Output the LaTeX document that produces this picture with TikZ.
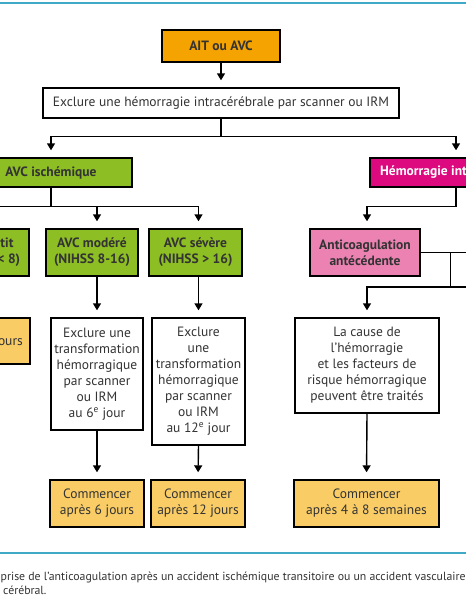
\documentclass[tikz,border=0pt]{standalone}
\usepackage{fontspec}
\setmainfont{PT Sans}
\usetikzlibrary{arrows.meta}
\definecolor{orA}{HTML}{F4A300}
\definecolor{grA}{HTML}{8DBE23}
\definecolor{mgA}{HTML}{DC0A7E}
\definecolor{pkA}{HTML}{EB82B2}
\definecolor{orB}{HTML}{F9CC66}
\definecolor{cyA}{HTML}{3FA9C6}
\definecolor{txA}{HTML}{333333}
\begin{document}
\begin{tikzpicture}[x=1pt,y=-1pt,
  box/.style={draw=black, line width=1.4pt, align=center, inner sep=0pt, text=txA,
    font=\fontsize{13.5}{16}\selectfont},
  bbox/.style={box, font=\fontsize{13.5}{16}\selectfont\bfseries},
  ln/.style={line width=1.4pt},
  arr/.style={line width=1.4pt, -{Triangle[width=8pt,length=7pt]}, shorten >=7pt},
  captxt/.style={text=txA, font=\fontsize{11.8}{14}\selectfont, inner sep=0pt, anchor=base west}
]
\useasboundingbox (0,0) rectangle (466,600);
\clip (0,0) rectangle (466,600);
\fill[white] (0,0) rectangle (466,600);
\draw[cyA, line width=2pt] (0,2.5) -- (466,2.5);
\draw[cyA, line width=2pt] (0,553) -- (466,553);

% level 1-2
\node[bbox, fill=orA, minimum width=118pt, minimum height=32pt] (ait) at (221,46) {AIT ou AVC};
\node[box, minimum width=356pt, minimum height=30pt] (excl) at (221,103) {Exclure une hémorragie intracérébrale par scanner ou IRM};

% level 3
\node[bbox, fill=grA, minimum width=162pt, minimum height=29pt] (isch) at (51,172.5) {AVC ischémique};
\node[bbox, fill=mgA, text=white, minimum width=172pt, minimum height=29pt] (hem) at (456,172.5) {Hémorragie intr\phantom{acérébrale}};

% level 4
\node[bbox, fill=grA, minimum width=84pt, minimum height=47pt] (petit) at (-13,252.5) {\phantom{AVC pe}tit\\\phantom{(NIHSS }< 8)};
\node[bbox, fill=grA, minimum width=92pt, minimum height=47pt] (mod) at (92,252.5) {AVC modéré\\(NIHSS 8-16)};
\node[bbox, fill=grA, minimum width=93pt, minimum height=47pt] (sev) at (195.5,252.5) {AVC sévère\\(NIHSS > 16)};
\node[bbox, fill=pkA, minimum width=110pt, minimum height=47pt] (anti) at (365,252.5) {Anticoagulation\\antécédente};

% level 5
\node[box, fill=orB, minimum width=82pt, minimum height=46pt] (pbox) at (-11,341) {};
\node[text=txA, font=\fontsize{13.5}{16}\selectfont, anchor=base east, inner sep=0pt] (ptxt) at (23,345.5) {ours};
\node[box, minimum width=92pt, minimum height=112pt] (trmod) at (97,374) {Exclure une\\transformation\\hémorragique\\par scanner\\ou IRM\\au 6\textsuperscript{e} jour};
\node[box, minimum width=93pt, minimum height=127pt] (trsev) at (198.5,381.5) {Exclure\\une\\transformation\\hémorragique\\par scanner\\ou IRM\\au 12\textsuperscript{e} jour};
\node[box, minimum width=144pt, minimum height=95pt] (cause) at (367,365.5) {La cause de\\l’hémorragie\\et les facteurs de\\risque hémorragique\\peuvent être traités};

% level 6
\node[box, fill=orB, minimum width=94pt, minimum height=47pt] (c6) at (97,503.5) {Commencer\\après 6 jours};
\node[box, fill=orB, minimum width=94pt, minimum height=47pt] (c12) at (198,503.5) {Commencer\\après 12 jours};
\node[box, fill=orB, minimum width=145pt, minimum height=47pt] (c48) at (366.5,503.5) {Commencer\\après 4 à 8 semaines};

% connectors
\draw[arr] (ait.south) -- (excl.north);
\draw[ln] (excl.south) -- ++(0,18) coordinate (j1);
\draw[arr] (j1) -| (isch.north);
\draw[arr] (j1) -| (hem.north);
\draw[ln] (isch.south) -- ++(0,19) coordinate (j2);
\draw[arr] (j2) -| (petit.north);
\draw[arr] (j2) -| (mod.north -| trmod.north);
\draw[arr] (j2) -| (sev.north -| trsev.north);
\draw[arr] (petit.south) -- (pbox.north);
\draw[arr] (trmod.north |- mod.south) -- (trmod.north);
\draw[arr] (trsev.north |- sev.south) -- (trsev.north);
\draw[arr] (trmod.south) -- (c6.north);
\draw[arr] (trsev.south) -- (c12.north);
\draw[ln] (hem.south) -- ++(0,19) coordinate (j3);
\draw[arr] (j3) -| (anti.north -| cause.north);
\draw[ln] (anti.east) -- ++(60,0);
\draw[ln] (anti.east) ++(30,0) coordinate (k1) -- ++(0,34.5) coordinate (k2);
\draw[arr] (k2) -| (cause.north);
\draw[ln] (k2) -- ++(40,0);
\draw[arr] (cause.south) -- (c48.north);

% caption
\node[captxt] (cap1) at (0.5,580) {prise de l’anticoagulation après un accident ischémique transitoire ou un accident vasculaire};
\node[captxt] (cap2) at (3,594) {cérébral.};
\end{tikzpicture}
\end{document}
